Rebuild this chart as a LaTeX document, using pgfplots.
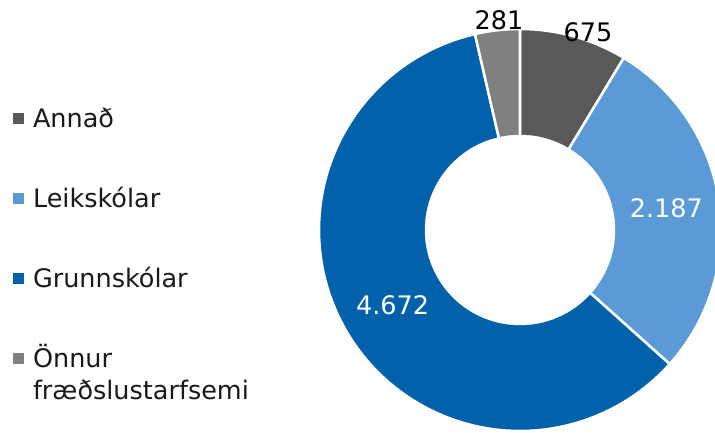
\documentclass[border=0pt]{standalone}
\usepackage{fontspec}
\setmainfont{DejaVu Sans}
\usepackage{pgfplots}
\pgfplotsset{compat=1.18}

\definecolor{cAnnad}{HTML}{595959}
\definecolor{cLeik}{HTML}{5B9BD5}
\definecolor{cGrunn}{HTML}{0061AB}
\definecolor{cOnnur}{HTML}{808080}

% values
\def\vA{675}
\def\vB{2187}
\def\vC{4672}
\def\vD{281}
\pgfmathsetmacro\tot{\vA+\vB+\vC+\vD}
% slice boundaries, clockwise from 12 o'clock
\pgfmathsetmacro\aA{90}
\pgfmathsetmacro\aB{\aA-\vA/\tot*360}
\pgfmathsetmacro\aC{\aB-\vB/\tot*360}
\pgfmathsetmacro\aD{\aC-\vC/\tot*360}
\pgfmathsetmacro\aE{\aD-\vD/\tot*360}
\pgfmathsetmacro\mB{(\aB+\aC)/2}
\pgfmathsetmacro\mC{(\aC+\aD)/2}
% centre and radii (pt)
\def\cx{520}
\def\cy{202}
\def\R{201}
\def\r{95}

\begin{document}
\begin{tikzpicture}
\useasboundingbox (0,0) rectangle (715pt,432pt);
\begin{axis}[
  at={(0,0)}, anchor=south west,
  scale only axis,
  width=715pt, height=432pt,
  xmin=0, xmax=715, ymin=0, ymax=432,
  hide axis,
  font=\fontsize{25.5}{32}\selectfont,
  legend cell align=left,
  legend image code/.code={\fill[#1,draw=none] (0pt,-2.5pt) rectangle (11pt,8.5pt);},
  legend style={at={(0.0182,0.7477)}, anchor=north west, draw=none, fill=none,
    inner sep=0pt, outer sep=0pt, row sep=55pt, column sep=9pt,
    text=black!90,
    nodes={inner sep=0pt, text height=19pt, text depth=6pt}},
]
\addplot[fill=cAnnad, draw=white, line width=2.5pt, domain=\aB:\aA, samples=40, variable=\t]
  ({\cx+\R*cos(\t)},{\cy+\R*sin(\t)}) -- (axis cs:\cx,\cy) -- cycle;
\addlegendentry{Annað}
\addplot[fill=cLeik, draw=white, line width=2.5pt, domain=\aC:\aB, samples=60, variable=\t]
  ({\cx+\R*cos(\t)},{\cy+\R*sin(\t)}) -- (axis cs:\cx,\cy) -- cycle;
\addlegendentry{Leikskólar}
\addplot[fill=cGrunn, draw=white, line width=2.5pt, domain=\aD:\aC, samples=100, variable=\t]
  ({\cx+\R*cos(\t)},{\cy+\R*sin(\t)}) -- (axis cs:\cx,\cy) -- cycle;
\addlegendentry{Grunnskólar}
\addplot[fill=cOnnur, draw=white, line width=2.5pt, domain=\aE:\aD, samples=20, variable=\t]
  ({\cx+\R*cos(\t)},{\cy+\R*sin(\t)}) -- (axis cs:\cx,\cy) -- cycle;
\addlegendentry{\begin{tabular}[t]{@{}l@{}}Önnur\\fræðslustarfsemi\end{tabular}}
% hole
\addplot[fill=white, draw=white, domain=0:360, samples=120, variable=\t, forget plot]
  ({\cx+\r*cos(\t)},{\cy+\r*sin(\t)}) -- cycle;
% data labels
\node[white] at (axis cs:{\cx+148*cos(\mB)},{\cy+148*sin(\mB)}) {2.187};
\node[white] at (axis cs:{\cx+148*cos(\mC)},{\cy+148*sin(\mC)}) {4.672};
\node[black] at (axis cs:588,400) {675};
\node[black] at (axis cs:499,412) {281};
\end{axis}
\end{tikzpicture}
\end{document}
